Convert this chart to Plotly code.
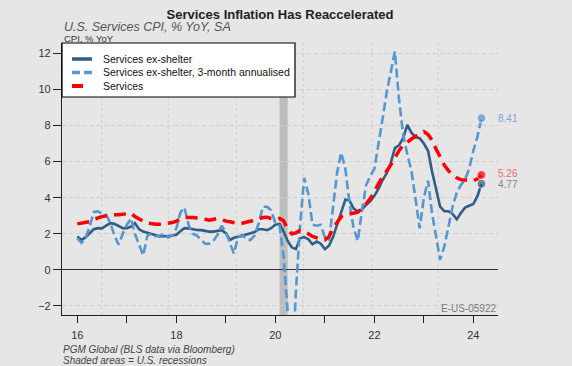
import pandas as pd
import plotly.graph_objects as go

# ---------------- data ----------------
start_month = "2016-01-01"
n_months = 99

services_ex_shelter = [
    1.85, 1.66, 1.80, 2.05, 2.25, 2.31, 2.30, 2.45, 2.59, 2.55, 2.45, 2.31,
    2.31, 2.40, 2.59, 2.25, 2.12, 2.05, 2.00, 1.94, 1.85, 1.88, 1.86, 1.90,
    1.95, 2.15, 2.31, 2.30, 2.25, 2.21, 2.20, 2.15, 2.12, 2.12, 2.15, 2.20,
    2.03, 1.66, 1.78, 1.82, 1.88, 1.96, 2.03, 2.10, 2.25, 2.25, 2.20, 2.31,
    2.50, 2.55, 2.15, 1.60, 1.25, 1.15, 1.75, 1.81, 1.70, 1.42, 1.57, 1.45,
    1.15, 1.35, 1.80, 2.50, 3.20, 3.90, 3.85, 3.40, 3.23, 3.35, 3.60, 3.80,
    4.10, 4.50, 4.95, 5.35, 5.90, 6.75, 6.90, 7.30, 8.03, 7.60, 7.35, 7.30,
    7.00, 6.60, 5.50, 4.50, 3.50, 3.25, 3.25, 3.10, 2.80, 3.15, 3.45, 3.55,
    3.65, 4.10, 4.77,
]

services_ex_shelter_3m = [
    1.75, 1.50, 1.75, 2.40, 3.20, 3.25, 3.10, 3.05, 2.60, 1.90, 1.40, 2.00,
    2.50, 2.85, 2.00, 1.40, 0.80, 1.90, 2.00, 1.85, 1.90, 2.00, 1.80, 1.90,
    2.30, 3.20, 3.45, 2.50, 2.00, 1.90, 1.70, 1.45, 1.45, 1.60, 1.95, 2.45,
    2.10, 1.50, 0.90, 1.80, 1.95, 1.70, 1.65, 1.90, 2.60, 3.50, 3.50, 3.30,
    2.60, 2.45, 0.80, -2.30, -6.00, -1.20, 2.40, 5.10, 4.20, 2.50, 2.45, 2.50,
    1.80, 1.66, 3.40, 5.40, 6.50, 5.60, 3.70, 2.30, 1.60, 3.30, 4.70, 5.20,
    5.60, 6.90, 8.30, 9.80, 11.00, 12.10, 9.50, 7.50, 6.40, 5.50, 3.90, 2.30,
    4.00, 4.95, 3.20, 1.80, 0.55, 1.30, 2.40, 3.50, 4.30, 4.70, 5.00, 5.60,
    6.60, 7.40, 8.41,
]

services = [
    2.55, 2.60, 2.65, 2.67, 2.80, 2.90, 2.95, 3.00, 3.05, 3.05, 3.05, 3.08,
    3.10, 3.14, 2.95, 2.80, 2.70, 2.60, 2.55, 2.53, 2.53, 2.55, 2.58, 2.62,
    2.70, 2.85, 2.90, 2.92, 2.90, 2.88, 2.86, 2.80, 2.75, 2.78, 2.85, 2.80,
    2.70, 2.67, 2.60, 2.55, 2.58, 2.63, 2.68, 2.75, 2.82, 2.90, 2.92, 2.85,
    2.80, 2.85, 2.73, 2.25, 2.00, 2.05, 2.18, 2.10, 2.00, 1.85, 1.75, 1.70,
    1.66, 1.85, 2.30, 2.67, 2.95, 3.05, 3.10, 3.12, 3.20, 3.42, 3.65, 3.95,
    4.30, 4.80, 5.10, 5.45, 5.80, 6.20, 6.60, 6.90, 7.10, 7.25, 7.40, 7.55,
    7.66, 7.50, 7.20, 6.70, 6.25, 5.80, 5.50, 5.25, 5.10, 5.00, 4.98, 4.95,
    4.94, 5.05, 5.26,
]

series_names = [
    "Services ex-shelter",
    "Services ex-shelter, 3-month annualised",
    "Services",
]

recession_start = "2020-02-01"
recession_end = "2020-04-01"

x_tick_start = "2016-01-01"
grid_dates = ["2016-06-29", "2017-11-02", "2019-03-20",
              "2020-07-25", "2021-12-12", "2023-04-17"]
y_ticks = [-2, 0, 2, 4, 6, 8, 10, 12]

# ---------------- styling ----------------
FONT = "Liberation Sans, Arial, sans-serif"
BG = "#e6e6e6"
C_DARK = "#2f5f86"
C_LIGHT = "#5597d2"
C_RED = "#ff0000"
DASH_LIGHT = "9px,4px"
DASH_RED = "12px,7px"

W, H = 572, 366
ML, MR, MT, MB = 62, 74, 43, 51
PW, PH = W - ML - MR, H - MT - MB

dates = pd.date_range(start_month, periods=n_months, freq="MS")


def end_marker_sizes(n, size):
    return [0] * (n - 1) + [size]


def px_x(p):
    return (p - ML) / PW


def px_y(p):
    return (H - MB - p) / PH


fig = go.Figure()

styles = [
    dict(color=C_DARK, width=2.6, dash="solid"),
    dict(color=C_LIGHT, width=2.6, dash=DASH_LIGHT),
    dict(color=C_RED, width=3.5, dash=DASH_RED),
]
for vals, name, st in zip([services_ex_shelter, services_ex_shelter_3m, services],
                          series_names, styles):
    fig.add_trace(go.Scatter(
        x=dates, y=vals, name=name, mode="lines+markers",
        line=st, showlegend=False,
        marker=dict(size=end_marker_sizes(n_months, 9), color=st["color"]),
    ))

# recession shading
fig.add_shape(type="rect", xref="x", yref="paper",
              x0=recession_start, x1=recession_end, y0=0, y1=1,
              fillcolor="#bdbdbd", line=dict(width=0), layer="below")

# vertical dashed grid
for d in grid_dates:
    fig.add_shape(type="line", xref="x", yref="paper", x0=d, x1=d, y0=0, y1=1,
                  line=dict(color="#cfcfcf", width=1, dash="3px,3px"), layer="below")

# custom legend box
fig.add_shape(type="rect", xref="paper", yref="paper",
              x0=px_x(62), x1=px_x(295), y0=px_y(97), y1=px_y(43),
              fillcolor="white", line=dict(color="black", width=1.2), layer="above")
legend_rows = [59, 72.5, 86]
legend_widths = [3.5, 3.5, 4]
for name, st, ry, lw in zip(series_names, styles, legend_rows, legend_widths):
    fig.add_shape(type="line", xref="paper", yref="paper",
                  x0=px_x(72), x1=px_x(92), y0=px_y(ry), y1=px_y(ry),
                  line=dict(color=st["color"], width=lw,
                            dash=("8px,4px" if st["dash"] == DASH_LIGHT else
                                  "11px,20px" if st["dash"] == DASH_RED else "solid")),
                  layer="above")
    fig.add_annotation(xref="paper", yref="paper", x=px_x(101), y=px_y(ry),
                       xanchor="left", yanchor="middle", showarrow=False,
                       text=name, font=dict(family=FONT, size=10.5, color="#111111"))

# end-value labels
label_colors = ["#7b8a99", "#7da7cf", "#f06b6b"]
label_shift = [-1, 0, 1]
for vals, col, ys in zip([services_ex_shelter, services_ex_shelter_3m, services],
                         label_colors, label_shift):
    fig.add_annotation(x=dates[-1], y=vals[-1], xref="x", yref="y",
                       text=f"{vals[-1]:.2f}", showarrow=False,
                       xanchor="left", yanchor="middle", xshift=15, yshift=ys,
                       font=dict(family=FONT, size=10, color=col))

# header / footer texts
fig.add_annotation(xref="paper", yref="paper", x=0, y=1, xanchor="left", yanchor="middle",
                   xshift=1, yshift=16.5, showarrow=False, borderpad=0,
                   text="<i>U.S. Services CPI, % YoY, SA</i>",
                   font=dict(family=FONT, size=12.5, color="#555555"))
fig.add_annotation(xref="paper", yref="paper", x=0, y=1, xanchor="left", yanchor="middle",
                   xshift=1, yshift=4.5, showarrow=False, borderpad=0,
                   text="CPI, % YoY",
                   font=dict(family=FONT, size=9.5, color="#333333"))
fig.add_annotation(xref="paper", yref="paper", x=0, y=0, xanchor="left", yanchor="middle",
                   xshift=-1, yshift=-34, showarrow=False,
                   text="<i>PGM Global (BLS data via Bloomberg)</i>",
                   font=dict(family=FONT, size=10, color="#444444"))
fig.add_annotation(xref="paper", yref="paper", x=0, y=0, xanchor="left", yanchor="middle",
                   xshift=-1, yshift=-45, showarrow=False,
                   text="<i>Shaded areas = U.S. recessions</i>",
                   font=dict(family=FONT, size=10, color="#444444"))
fig.add_annotation(xref="paper", yref="paper", x=1, y=0, xanchor="right", yanchor="middle",
                   xshift=0, yshift=7, showarrow=False,
                   text="E-US-05922",
                   font=dict(family=FONT, size=10, color="#7a7a7a"))

fig.update_layout(
    width=W, height=H,
    margin=dict(l=ML, r=MR, t=MT, b=MB),
    paper_bgcolor=BG, plot_bgcolor=BG,
    font=dict(family=FONT, size=11, color="#333333"),
    title=dict(text="<b>Services Inflation Has Reaccelerated</b>",
               xref="paper", x=0.5, xanchor="center", y=1 - 14 / H, yanchor="middle",
               font=dict(family=FONT, size=13, color="#222222")),
    showlegend=False,
)

fig.update_xaxes(
    type="date",
    range=["2015-09-10", "2024-07-01"],
    tick0=x_tick_start, dtick="M24", tickformat="%y",
    ticks="outside", ticklen=7, tickcolor="#222222", ticklabelstandoff=3,
    minor=dict(dtick="M12", ticks="outside", ticklen=7, tickcolor="#222222", showgrid=False),
    showgrid=False, showline=True, linecolor="#222222", linewidth=1.2,
    tickfont=dict(family=FONT, size=11, color="#333333"),
    zeroline=False,
)
fig.update_yaxes(
    range=[-2.5, 12.57],
    tickvals=y_ticks,
    ticks="outside", ticklen=8, tickcolor="#222222",
    showgrid=True, gridcolor="#cfcfcf", griddash="4px,3px", gridwidth=1,
    zeroline=True, zerolinecolor="#333333", zerolinewidth=1.2,
    showline=True, linecolor="#222222", linewidth=1.2,
    tickfont=dict(family=FONT, size=11, color="#333333"),
)

fig.write_html(
    "out.html",
    config={"displayModeBar": False},
    post_script="document.body.style.margin='0';document.body.style.background='%s';" % BG,
)
